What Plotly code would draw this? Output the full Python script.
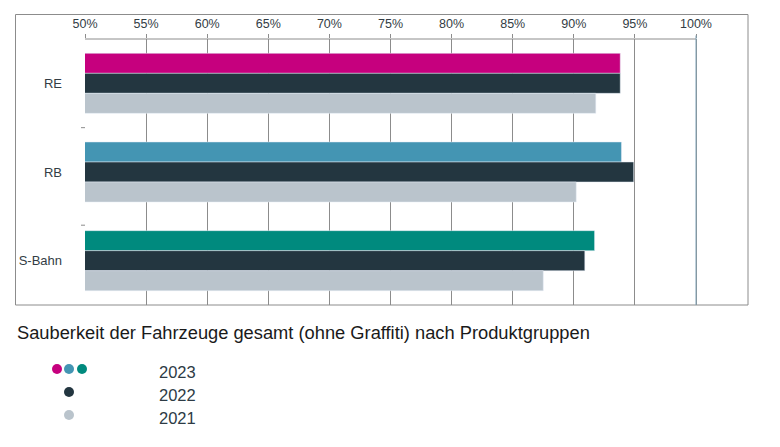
import plotly.graph_objects as go

categories = ["RE", "RB", "S-Bahn"]
v2023 = [93.8, 93.9, 91.7]
v2022 = [93.8, 94.9, 90.9]
v2021 = [91.8, 90.2, 87.5]
colors2023 = ["#C6007E", "#4495B3", "#008A7E"]
color2022 = "#233640"
color2021 = "#BAC4CC"
tick_vals = [50, 55, 60, 65, 70, 75, 80, 85, 90, 95, 100]
tick_text = [f"{v}%" for v in tick_vals]
title_text = "Sauberkeit der Fahrzeuge gesamt (ohne Graffiti) nach Produktgruppen"
legend_labels = ["2023", "2022", "2021"]

W, H = 780, 447
L, R, T, B = 85, 748, 39, 305
pw, ph = R - L, B - T

def px(x):
    return (x - L) / pw

def py(y):
    return (B - y) / ph

fig = go.Figure()
fig.add_trace(go.Bar(y=categories, x=v2023, orientation="h", marker_color=colors2023, name="2023"))
fig.add_trace(go.Bar(y=categories, x=v2022, orientation="h", marker_color=color2022, name="2022"))
fig.add_trace(go.Bar(y=categories, x=v2021, orientation="h", marker_color=color2021, name="2021"))

grid = "#8c8c8c"
shapes = []
# outer frame
shapes.append(dict(type="rect", xref="paper", yref="paper", x0=px(15.5), x1=1, y0=0, y1=py(14.5),
                   line=dict(color=grid, width=1), layer="above"))
# top axis line 50..100
shapes.append(dict(type="line", xref="x", yref="paper", x0=50, x1=100, y0=1, y1=1,
                   line=dict(color=grid, width=1)))
# 100% line bluish
shapes.append(dict(type="line", xref="x", yref="paper", x0=100, x1=100, y0=0, y1=py(35.5),
                   line=dict(color="#7FA3B8", width=1)))
# small y ticks
for yv in [0.5, 1.6]:
    shapes.append(dict(type="line", xref="paper", yref="y", x0=px(81), x1=px(85), y0=yv, y1=yv,
                       line=dict(color=grid, width=1)))

annotations = []
annotations.append(dict(text=title_text, xref="paper", yref="paper", x=px(15), y=py(333),
                        xanchor="left", yanchor="middle", showarrow=False,
                        font=dict(family="Liberation Sans, Arial", size=18.3, color="#1a1a1a")))
# legend
dot_rows = [[(57, colors2023[0]), (69, colors2023[1]), (82, colors2023[2])],
            [(69, color2022)], [(69, color2021)]]
row_y = [369, 392, 415]
label_y = [372, 395, 418]
for i, row in enumerate(dot_rows):
    for (cx, col) in row:
        shapes.append(dict(type="circle", xref="paper", yref="paper", xsizemode="pixel", ysizemode="pixel",
                           xanchor=px(cx), yanchor=py(row_y[i]), x0=-5, x1=5, y0=-5, y1=5,
                           fillcolor=col, line=dict(width=0)))
    annotations.append(dict(text=legend_labels[i], xref="paper", yref="paper", x=px(157), y=py(label_y[i]),
                            xanchor="left", yanchor="middle", showarrow=False,
                            font=dict(family="Liberation Sans, Arial", size=16.5, color="#2d3b45")))

fig.update_layout(
    width=W, height=H,
    margin=dict(l=L, r=W - R, t=T, b=H - B),
    paper_bgcolor="white", plot_bgcolor="white",
    barmode="group", bargap=0.323, bargroupgap=0,
    showlegend=False,
    shapes=shapes, annotations=annotations,
    xaxis=dict(side="top", range=[50, 50 + (R - L) / 12.22], tickvals=tick_vals, ticktext=tick_text,
               showgrid=True, gridcolor=grid, gridwidth=1, zeroline=False, showline=False,
               ticks="outside", ticklen=4, tickcolor=grid, ticklabelstandoff=1,
               tickfont=dict(family="Liberation Sans, Arial", size=12.5, color="#333d45")),
    yaxis=dict(range=[2.5, -0.5], showgrid=False, zeroline=False, showline=False, ticks="",
               ticklabelstandoff=22,
               tickfont=dict(family="Liberation Sans, Arial", size=13, color="#333d45")),
)

fig.write_html("out.html")
